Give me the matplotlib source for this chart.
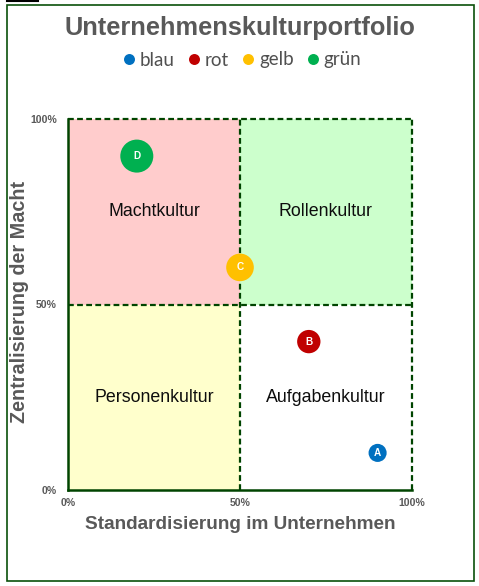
import matplotlib
matplotlib.use("Agg")
import matplotlib.pyplot as plt
from matplotlib.patches import Rectangle
from matplotlib.lines import Line2D

# ---- data ----
series_names = ["blau", "rot", "gelb", "grün"]
point_labels = ["A", "B", "C", "D"]
x_values = [0.9, 0.7, 0.5, 0.2]
y_values = [0.1, 0.4, 0.6, 0.9]
bubble_sizes = [3, 5, 7, 10]
series_colors = ["#0070C0", "#C00000", "#FFC000", "#00B050"]

threshold = 0.5
quadrant_names = ["Personenkultur", "Aufgabenkultur", "Machtkultur", "Rollenkultur"]
quadrant_colors = ["#FFFFCC", "#FFFFFF", "#FFCCCC", "#CCFFCC"]
tick_values = [0, 0.5, 1.0]
tick_labels = ["0%", "50%", "100%"]

title = "Unternehmenskulturportfolio"
x_title = "Standardisierung im Unternehmen"
y_title = "Zentralisierung der Macht"

# ---- figure ----
W, H = 479, 586
fig = plt.figure(figsize=(W / 100, H / 100), dpi=100)
fig.patch.set_facecolor("white")

ax = fig.add_axes([68 / W, (H - 490) / H, 344 / W, 371 / H])
ax.set_xlim(0, 1)
ax.set_ylim(0, 1)

# quadrants
qpos = [(0, 0), (threshold, 0), (0, threshold), (threshold, threshold)]
for (qx, qy), name, col in zip(qpos, quadrant_names, quadrant_colors):
    ax.add_patch(Rectangle((qx, qy), threshold, threshold, facecolor=col,
                           edgecolor="none", zorder=0))
    ax.text(qx + threshold / 2, qy + threshold / 2, name, ha="center", va="center",
            fontsize=12.8, family="Liberation Sans", color="#0d0d0d", zorder=2)

dark = "#004400"
dash = (0, (2.6, 1.5))
ax.axvline(threshold, color=dark, lw=1.6, linestyle=dash, zorder=1)
ax.axhline(threshold, color=dark, lw=1.6, linestyle=dash, zorder=1)
ax.axvline(1.0, color=dark, lw=1.6, linestyle=dash, zorder=1, clip_on=False)
ax.axhline(1.0, color=dark, lw=1.6, linestyle=dash, zorder=1, clip_on=False)

for side in ["top", "right"]:
    ax.spines[side].set_visible(False)
for side in ["left", "bottom"]:
    ax.spines[side].set_color(dark)
    ax.spines[side].set_linewidth(1.8)
    ax.spines[side].set_zorder(3)

# bubbles
for xv, yv, sz, col, lab in zip(x_values, y_values, bubble_sizes, series_colors, point_labels):
    ax.scatter([xv], [yv], s=sz * 56.5, color=col, edgecolors="none", zorder=4, clip_on=False)
    ax.text(xv, yv, lab, ha="center", va="center", color="white", fontsize=7.2,
            fontweight="bold", family="Liberation Sans", zorder=5)

ax.set_xticks(tick_values)
ax.set_xticklabels(tick_labels)
ax.set_yticks(tick_values)
ax.set_yticklabels(tick_labels)
ax.tick_params(axis="both", length=0, labelsize=7.6, labelcolor="#595959")
ax.tick_params(axis="x", pad=6)
ax.tick_params(axis="y", pad=8)
for t in ax.get_xticklabels() + ax.get_yticklabels():
    t.set_fontweight("bold")
    t.set_family("Liberation Sans")

# titles
fig.text(240 / W, 1 - 27.5 / H, title, ha="center", va="center", fontsize=18.3,
         fontweight="bold", color="#595959", family="Liberation Sans")
fig.text(240 / W, 1 - 524.5 / H, x_title, ha="center", va="center", fontsize=13.7,
         fontweight="bold", color="#595959", family="Liberation Sans")
fig.text(19.5 / W, 1 - 302 / H, y_title, ha="center", va="center", rotation=90,
         fontsize=14.2, fontweight="bold", color="#595959", family="Liberation Sans")

# legend
handles = [Line2D([], [], marker="o", linestyle="none", markersize=7.9,
                  markerfacecolor=c, markeredgecolor="none") for c in series_colors]
fig.legend(handles, series_names, loc="center", bbox_to_anchor=(242.5 / W, 1 - 60 / H),
           ncol=4, frameon=False, handlelength=0.59, handletextpad=0.27,
           columnspacing=0.75, prop={"family": "Lato", "size": 13.5},
           labelcolor="#505050", borderpad=0)

# outer frame and small top line
fig.add_artist(Rectangle((6.5 / W, 5 / H), 467.5 / W, 576 / H, transform=fig.transFigure,
                         facecolor="none", edgecolor="#0b500b", lw=1.2))
fig.add_artist(Line2D([7 / W, 38 / W], [1 - 1 / H, 1 - 1 / H], transform=fig.transFigure,
                      color="black", lw=1.5))

fig.savefig("out.png", dpi=100)
